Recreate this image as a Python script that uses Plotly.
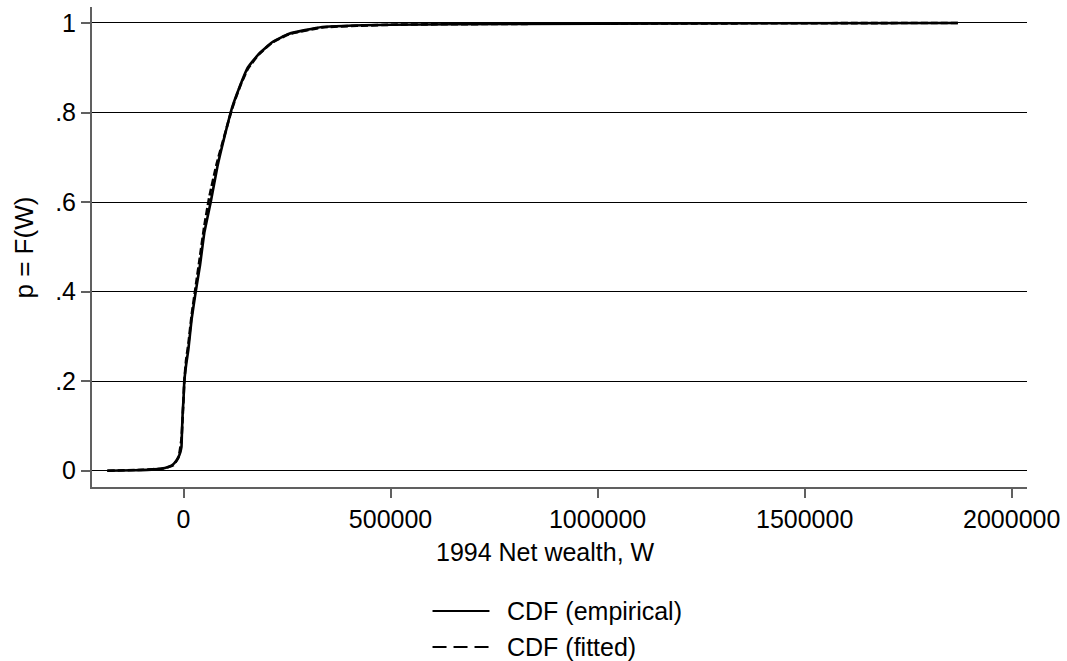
import plotly.graph_objects as go

# Empirical CDF of 1994 net wealth
emp_wealth = [-184000, -120000, -70000, -45000, -28000, -17000, -10000, -5000,
              -4000, -2000, 0, 2000, 6800, 11600, 19800, 29500, 40000, 50000,
              65700, 82000, 100000, 117000, 135000, 155000, 182000, 214000,
              255000, 335000, 500000, 800000, 1200000, 1870000]
emp_cdf = [0.0, 0.001, 0.003, 0.006, 0.012, 0.023, 0.035, 0.053,
           0.08, 0.13, 0.16, 0.2, 0.24, 0.27, 0.34, 0.40, 0.46, 0.53,
           0.60, 0.68, 0.75, 0.81, 0.856, 0.90, 0.931, 0.957,
           0.976, 0.991, 0.996, 0.998, 0.999, 1.0]

# Fitted CDF
fit_wealth = [-184000, -100000, -50000, -25000, -12000, -5000, -2000, 0, 2000,
              6000, 12000, 20000, 30000, 40000, 50000, 62000, 80000, 100000,
              117000, 135000, 155000, 182000, 214000, 255000, 335000, 500000,
              800000, 1200000, 1870000]
fit_cdf = [0.0, 0.002, 0.005, 0.012, 0.03, 0.07, 0.12, 0.16, 0.2,
           0.245, 0.285, 0.35, 0.415, 0.48, 0.545, 0.61, 0.685, 0.752,
           0.808, 0.855, 0.897, 0.93, 0.956, 0.975, 0.99, 0.996,
           0.998, 0.999, 1.0]

x_ticks = [0, 500000, 1000000, 1500000, 2000000]
x_tick_text = ["0", "500000", "1000000", "1500000", "2000000"]
y_ticks = [0, 0.2, 0.4, 0.6, 0.8, 1]
y_tick_text = ["0", ".2", ".4", ".6", ".8", "1"]

series_names = ["CDF (empirical)", "CDF (fitted)"]

FONT = "Liberation Sans, Arial, sans-serif"
FS = 25
AXIS_GRAY = "#606060"

fig = go.Figure()
fig.add_trace(go.Scatter(x=emp_wealth, y=emp_cdf, mode="lines", name=series_names[0],
                         line=dict(color="black", width=2.6, shape="spline", smoothing=0.4)))
fig.add_trace(go.Scatter(x=fit_wealth, y=fit_cdf, mode="lines", name=series_names[1],
                         line=dict(color="black", width=2.6, dash="7px,3px",
                                   shape="spline", smoothing=0.4)))

fig.update_layout(
    width=1067, height=661,
    margin=dict(l=92, r=40, t=7, b=174),
    paper_bgcolor="white", plot_bgcolor="white",
    showlegend=False,
    font=dict(family=FONT, size=FS, color="black"),
)

fig.update_xaxes(
    range=[-221000, 2037000],
    tickvals=x_ticks, ticktext=x_tick_text,
    showgrid=False, zeroline=False,
    showline=True, linecolor=AXIS_GRAY, linewidth=2,
    ticks="outside", ticklen=9, tickwidth=1.5, tickcolor=AXIS_GRAY,
    tickfont=dict(family=FONT, size=FS, color="black"),
)
fig.update_yaxes(
    range=[-0.0364, 1.0357],
    tickvals=y_ticks, ticktext=y_tick_text,
    showgrid=True, gridcolor="black", gridwidth=1,
    zeroline=False,
    showline=True, linecolor=AXIS_GRAY, linewidth=2,
    ticks="outside", ticklen=9, tickwidth=1.5, tickcolor=AXIS_GRAY,
    tickfont=dict(family=FONT, size=FS, color="black"),
)

# Axis titles
fig.add_annotation(text="1994 Net wealth, W", xref="paper", yref="paper",
                   x=0.4851, y=-0.1354, showarrow=False,
                   xanchor="center", yanchor="middle",
                   font=dict(family=FONT, size=FS, color="black"))
fig.add_annotation(text="p = F(W)", xref="paper", yref="paper",
                   x=-0.0722, y=0.5, showarrow=False, textangle=-90,
                   xanchor="center", yanchor="middle",
                   font=dict(family=FONT, size=26, color="black"))

# Legend below the plot
legend_rows = [(-0.2583, "solid"), (-0.3333, "14px,7px")]
for (ly, dash), name in zip(legend_rows, series_names):
    fig.add_shape(type="line", xref="paper", yref="paper",
                  x0=0.3642, x1=0.4251, y0=ly, y1=ly,
                  line=dict(color="black", width=2, dash=dash))
    fig.add_annotation(text=name, xref="paper", yref="paper",
                       x=0.4422, y=ly, showarrow=False,
                       xanchor="left", yanchor="middle",
                       font=dict(family=FONT, size=FS, color="black"))

fig.write_html("out.html")
